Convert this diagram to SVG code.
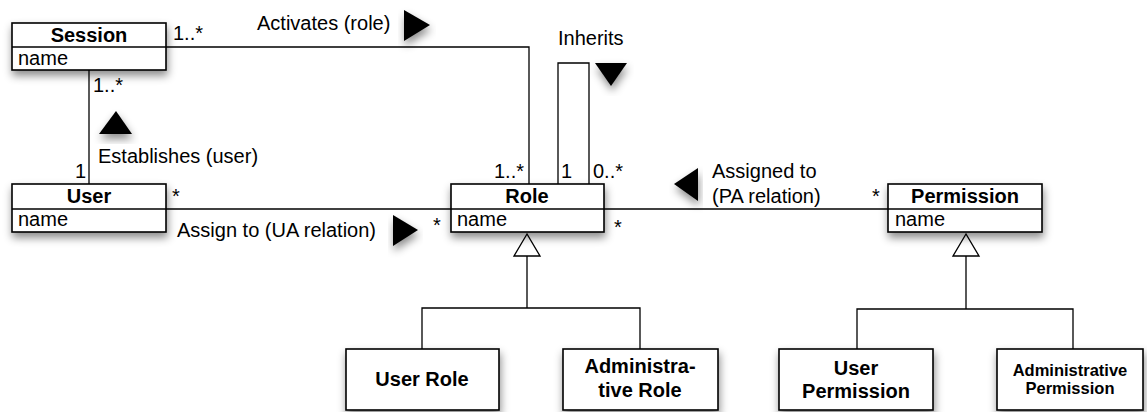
<svg xmlns="http://www.w3.org/2000/svg" width="1147" height="412" viewBox="0 0 1147 412">
<defs>
<filter id="sh" x="-20%" y="-20%" width="140%" height="160%">
<feDropShadow dx="1" dy="5" stdDeviation="4" flood-color="#000" flood-opacity="0.45"/>
</filter>
<style>
.box{fill:#fff;stroke:#000;stroke-width:1.6}
.div{stroke:#000;stroke-width:1.6}
.ln{fill:none;stroke:#000;stroke-width:1.3}
.t{font-family:"Liberation Sans",Arial,sans-serif;font-size:20px;fill:#000}
.b{font-family:"Liberation Sans",Arial,sans-serif;font-size:20px;font-weight:bold;fill:#000}
.bs{font-family:"Liberation Sans",Arial,sans-serif;font-size:16.5px;font-weight:bold;fill:#000}
.arr{fill:#000;filter:url(#sh)}
.gen{fill:#fff;stroke:#000;stroke-width:1.3}
</style>
</defs>
<rect width="1147" height="412" fill="#fff"/>

<g id="connectors">
<path class="ln" d="M166,47 H529 V184"/>
<path class="ln" d="M89,70 V184"/>
<path class="ln" d="M166,209 H451"/>
<path class="ln" d="M604,209 H888"/>
<path class="ln" d="M558,184 V63 H589 V184"/>
<path class="ln" d="M527,256 V308 M422,349 V308 H640 V349"/>
<polygon class="gen" points="527,234 514,256 540,256"/>
<path class="ln" d="M966,256 V309 M857,349 V309 H1073 V349"/>
<polygon class="gen" points="966,234 953,256 979,256"/>
<text class="t" x="173" y="40">1..*</text>
<text class="t" x="93" y="92">1..*</text>
<text class="t" x="75" y="178">1</text>
<text class="t" x="172" y="203">*</text>
<text class="t" x="433" y="232">*</text>
<text class="t" x="494" y="178">1..*</text>
<text class="t" x="561" y="178">1</text>
<text class="t" x="593" y="178">0..*</text>
<text class="t" x="614" y="234">*</text>
<text class="t" x="872" y="203">*</text>
<text class="t" x="257" y="30">Activates (role)</text>
<polygon class="arr" points="404,10 404,41 430,25"/>
<text class="t" x="558" y="45">Inherits</text>
<polygon class="arr" points="595,63 627,63 611,86"/>
<polygon class="arr" points="99,134 132,134 116,111"/>
<text class="t" x="98" y="163">Establishes (user)</text>
<text class="t" x="177" y="237">Assign to (UA relation)</text>
<polygon class="arr" points="393,215 393,246 418,230"/>
<polygon class="arr" points="698,168 698,201 674,184"/>
<text class="t" x="712" y="178">Assigned to</text>
<text class="t" x="712" y="203">(PA relation)</text>
</g>

<g id="session">
<rect class="box" x="12" y="23" width="154" height="47" filter="url(#sh)"/>
<line class="div" x1="12" y1="47" x2="166" y2="47"/>
<text class="b" x="89" y="42" text-anchor="middle">Session</text>
<text class="t" x="18" y="65">name</text>
</g>

<g id="user">
<rect class="box" x="12" y="184" width="154" height="48" filter="url(#sh)"/>
<line class="div" x1="12" y1="209" x2="166" y2="209"/>
<text class="b" x="89" y="203" text-anchor="middle">User</text>
<text class="t" x="18" y="226">name</text>
</g>

<g id="role">
<rect class="box" x="451" y="184" width="153" height="48" filter="url(#sh)"/>
<line class="div" x1="451" y1="209" x2="604" y2="209"/>
<text class="b" x="527" y="203" text-anchor="middle">Role</text>
<text class="t" x="457" y="226">name</text>
</g>

<g id="permission">
<rect class="box" x="888" y="184" width="154" height="48" filter="url(#sh)"/>
<line class="div" x1="888" y1="209" x2="1042" y2="209"/>
<text class="b" x="965" y="203" text-anchor="middle">Permission</text>
<text class="t" x="895" y="226">name</text>
</g>

<g id="user-role">
<rect class="box" x="346" y="349" width="153" height="61" filter="url(#sh)"/>
<text class="b" x="422" y="386" text-anchor="middle">User Role</text>
</g>

<g id="admin-role">
<rect class="box" x="563" y="349" width="155" height="61" filter="url(#sh)"/>
<text class="b" x="640" y="373" text-anchor="middle">Administra-</text>
<text class="b" x="640" y="397" text-anchor="middle">tive Role</text>
</g>

<g id="user-permission">
<rect class="box" x="779" y="349" width="154" height="61" filter="url(#sh)"/>
<text class="b" x="856" y="375" text-anchor="middle">User</text>
<text class="b" x="856" y="398" text-anchor="middle">Permission</text>
</g>

<g id="admin-permission">
<rect class="box" x="997" y="349" width="146" height="61" filter="url(#sh)"/>
<text class="bs" x="1070" y="376" text-anchor="middle">Administrative</text>
<text class="bs" x="1070" y="394" text-anchor="middle">Permission</text>
</g>
</svg>
